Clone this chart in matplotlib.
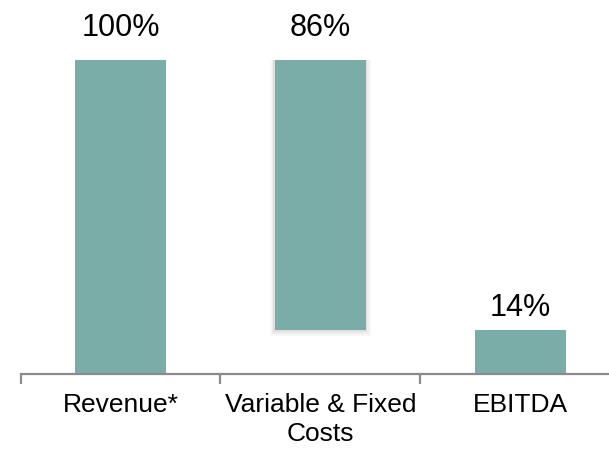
import matplotlib
matplotlib.use("Agg")
import matplotlib.pyplot as plt
from matplotlib.ticker import FixedLocator

plt.rcParams['font.family'] = ['Liberation Sans', 'DejaVu Sans']

categories = ["Revenue*", "Variable & Fixed\nCosts", "EBITDA"]
values = [100, 86, 14]
labels = ["100%", "86%", "14%"]

# waterfall: costs hang down from revenue total, EBITDA sits on the axis
bottoms = [0, values[0] - values[1], 0]

bar_color = "#7AADA8"
axis_color = "#8C8C8C"

fig = plt.figure(figsize=(6.09, 4.49), dpi=100)
ax = fig.add_axes([0.034, 0.167, 0.966, 0.833])

x = list(range(len(categories)))
bar_w = 0.455

# soft shadow around the floating cost bar
for k, a in enumerate([0.05, 0.04, 0.03]):
    grow = 0.008 * (k + 1)
    ax.bar(x[1], values[1] + 0.6 * (k + 1), width=bar_w + 2 * grow,
           bottom=bottoms[1] - 0.6 * (k + 1), color="black", alpha=a,
           linewidth=0, zorder=1)

ax.bar(x, values, width=bar_w, bottom=bottoms, color=bar_color,
       linewidth=0, zorder=2)

pads = [24, 24, 14]
for xi, v, b, lab, p in zip(x, values, bottoms, labels, pads):
    ax.annotate(lab, xy=(xi, b + v), xytext=(0, p * 72 / 100),
                textcoords="offset points", ha="center", va="baseline",
                fontsize=22, color="black")

ax.set_xlim(-0.5, 2.445)
ax.set_ylim(0, 119.1)

for side in ["top", "right", "left"]:
    ax.spines[side].set_visible(False)
ax.spines["bottom"].set_color(axis_color)
ax.spines["bottom"].set_linewidth(1.6)

ax.set_yticks([])
ax.set_xticks(x)
ax.set_xticklabels(categories, fontsize=19, color="black", linespacing=1.28)
ax.tick_params(axis="x", which="major", length=0, pad=13.5)
ax.xaxis.set_minor_locator(FixedLocator([-0.5, 0.5, 1.5]))
ax.tick_params(axis="x", which="minor", length=7, width=1.6,
               color=axis_color, direction="out")

fig.savefig("out.png", dpi=100)
